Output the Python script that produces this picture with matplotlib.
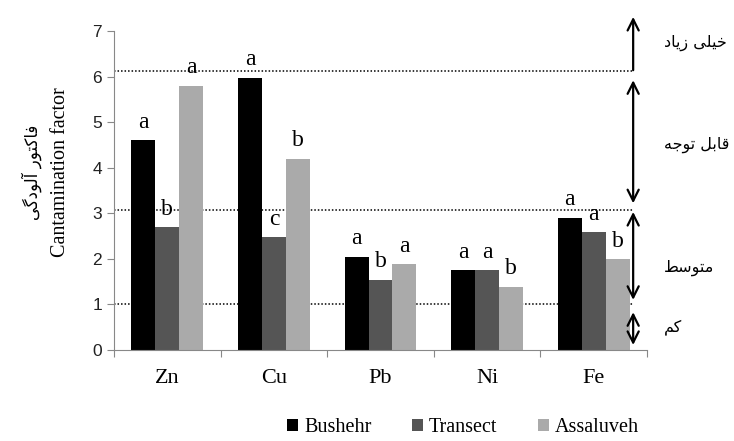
import numpy as np
import matplotlib
matplotlib.use("Agg")
import matplotlib.pyplot as plt

# data
metals = ["Zn", "Cu", "Pb", "Ni", "Fe"]
sites = ["Bushehr", "Transect", "Assaluveh"]
bushehr = [4.6, 5.97, 2.05, 1.75, 2.9]
transect = [2.69, 2.47, 1.54, 1.75, 2.58]
assaluveh = [5.8, 4.2, 1.88, 1.39, 1.99]
letters_b = ["a", "a", "a", "a", "a"]
letters_t = ["b", "c", "b", "a", "a"]
letters_a = ["a", "b", "a", "b", "b"]
colors = ["#000000", "#555555", "#aaaaaa"]

# class borders and labels (Persian)
borders = [6.12, 3.07, 1.0]
class_names = ["خیلی زیاد", "قابل توجه", "متوسط", "کم"]
ylabel_fa = "فاکتور آلودگی"

# --- tiny Arabic/Persian shaper (matplotlib has no text shaping) ---
forms = {
    "ا": ("\uFE8D", "\uFE8E", None, None),
    "آ": ("\uFE81", "\uFE82", None, None),
    "ب": ("\uFE8F", "\uFE90", "\uFE91", "\uFE92"),
    "ت": ("\uFE95", "\uFE96", "\uFE97", "\uFE98"),
    "ج": ("\uFE9D", "\uFE9E", "\uFE9F", "\uFEA0"),
    "خ": ("\uFEA5", "\uFEA6", "\uFEA7", "\uFEA8"),
    "د": ("\uFEA9", "\uFEAA", None, None),
    "ر": ("\uFEAD", "\uFEAE", None, None),
    "ز": ("\uFEAF", "\uFEB0", None, None),
    "س": ("\uFEB1", "\uFEB2", "\uFEB3", "\uFEB4"),
    "ط": ("\uFEC1", "\uFEC2", "\uFEC3", "\uFEC4"),
    "ف": ("\uFED1", "\uFED2", "\uFED3", "\uFED4"),
    "ق": ("\uFED5", "\uFED6", "\uFED7", "\uFED8"),
    "ل": ("\uFEDD", "\uFEDE", "\uFEDF", "\uFEE0"),
    "م": ("\uFEE1", "\uFEE2", "\uFEE3", "\uFEE4"),
    "ه": ("\uFEE9", "\uFEEA", "\uFEEB", "\uFEEC"),
    "و": ("\uFEED", "\uFEEE", None, None),
    "ی": ("\uFBFC", "\uFBFD", "\uFBFE", "\uFBFF"),
    "ک": ("\uFB8E", "\uFB8F", "\uFB90", "\uFB91"),
    "گ": ("\uFB92", "\uFB93", "\uFB94", "\uFB95"),
}


def shape(s):
    out = []
    for i, ch in enumerate(s):
        if ch not in forms:
            out.append(ch)
            continue
        prev = s[i - 1] if i > 0 else ""
        nxt = s[i + 1] if i < len(s) - 1 else ""
        jp = prev in forms and forms[prev][2] is not None
        jn = nxt in forms and forms[ch][2] is not None
        iso, fin, ini, med = forms[ch]
        if jp and jn:
            out.append(med)
        elif jp:
            out.append(fin)
        elif jn:
            out.append(ini)
        else:
            out.append(iso)
    return "".join(out)[::-1]


serif = "Liberation Serif"

fig = plt.figure(figsize=(7.34, 4.41), dpi=100)
ax = fig.add_axes([0.1553, 0.2063, 0.7262, 0.7234])

x = np.arange(len(metals))
w = 0.225
series = [bushehr, transect, assaluveh]
lets = [letters_b, letters_t, letters_a]
for k in range(3):
    xs = x + (k - 1) * w
    ax.bar(xs, series[k], w, color=colors[k], label=sites[k], zorder=2)
    for xi, v, l in zip(xs, series[k], lets[k]):
        ax.text(xi, v + 0.28, l, ha="center", va="baseline",
                fontsize=17, family=serif, zorder=3)

ax.set_xlim(-0.5, 4.5)
ax.set_ylim(0, 7)

# dotted class borders and arrows
ax_x = 4.37
for b in borders:
    ax.plot([-0.5, ax_x], [b, b], color="black", ls=(0, (1, 1.3)), lw=1.1, zorder=1)

arrow_spans = [(6.14, 7.31, "->"), (5.92, 3.22, "<->"), (3.03, 1.1, "<->"), (0.83, 0.11, "<->")]
for y0, y1, st in arrow_spans:
    ax.annotate("", xy=(ax_x, y1), xytext=(ax_x, y0), annotation_clip=False,
                arrowprops=dict(arrowstyle=st + ",head_length=0.8,head_width=0.4",
                                lw=1.6, color="black", shrinkA=0, shrinkB=0))

text_y = [6.74, 4.5, 1.8, 0.5]
for t, ty in zip(class_names, text_y):
    ax.text(4.66, ty, shape(t), ha="left", va="center", fontsize=11.5,
            family="DejaVu Sans", clip_on=False)

# axes styling
for s in ["top", "right"]:
    ax.spines[s].set_visible(False)
for s in ["left", "bottom"]:
    ax.spines[s].set_color("#888888")
ax.set_yticks(range(8))
ax.tick_params(axis="y", colors="#888888", labelcolor="#222222", labelsize=12.5,
               length=5, direction="out")
for lab in ax.get_yticklabels():
    lab.set_family("Liberation Sans")
ax.set_xticks(np.arange(-0.5, 5, 1.0))
ax.set_xticklabels([])
ax.tick_params(axis="x", colors="#888888", length=5, direction="out")
ax.set_xticks(x, minor=True)
ax.set_xticklabels(metals, minor=True, fontsize=16, family=serif)
ax.tick_params(axis="x", which="minor", length=0, pad=14)

fig.text(0.082, 0.61, "Cantamination factor", rotation=90, ha="center",
         va="center", fontsize=14.5, family=serif)
fig.text(0.043, 0.61, shape(ylabel_fa), rotation=90, ha="center",
         va="center", fontsize=12, family="DejaVu Sans")

fig.legend(loc="center", bbox_to_anchor=(0.631, 0.03), ncol=3, frameon=False,
           prop={"family": serif, "size": 14.5}, handlelength=0.55, handleheight=0.55,
           handletextpad=0.3, columnspacing=2.0, borderpad=0.1)

fig.savefig("out.png", dpi=100)
